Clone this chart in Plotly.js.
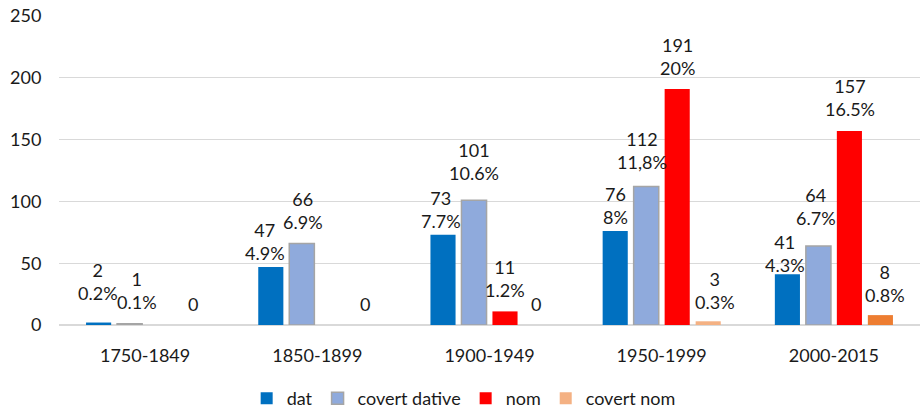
<!DOCTYPE html>
<html>
<head>
<meta charset="utf-8">
<script src="https://cdn.plot.ly/plotly-3.0.1.min.js"></script>
<style>html,body{margin:0;padding:0;background:#fff;}#chart{width:920px;height:411px;}</style>
</head>
<body>
<div id="chart"></div>
<script>
// ---- data ----
const categories = ['1750-1849', '1850-1899', '1900-1949', '1950-1999', '2000-2015'];
const seriesNames = ['dat', 'covert dative', 'nom', 'covert nom'];
const datValues = [2, 47, 73, 76, 41];
const datPct = ['0.2%', '4.9%', '7.7%', '8%', '4.3%'];
const covertDativeValues = [1, 66, 101, 112, 64];
const covertDativePct = ['0.1%', '6.9%', '10.6%', '11,8%', '6.7%'];
const nomValues = [0, 0, 11, 191, 157];
const nomPct = [null, null, '1.2%', '20%', '16.5%'];
const covertNomValues = [0, 0, 0, 3, 8];
const covertNomPct = [null, null, null, '0.3%', '0.8%'];

// ---- style ----
const FONT = 'Lato, "Liberation Sans", Arial, sans-serif';
const TXT = '#1a1a1a';
const M = {l: 59, r: 0, t: 16, b: 86};
const W = 920, H = 411;
const BARGAP = 0.28, GROUPGAP = 0.19;
const colors = ['#0070C0', '#8FAADC', '#FF0000', ['#F4B183', '#F4B183', '#F4B183', '#F4B183', '#ED7D31']];
// label nudges (label layout only): distance of last text line centre above bar top, horizontal shift
const labelGap = [[29.5, 14, 13, 14, 9], [21, 21, 27, 24, 28], [21, 21, 21, 21, 22], [21, 21, 21, 19, 20]];
const labelDx = [[-1, -6, -2, 0, -2], [7, 1.5, 0, -4.5, -2], [0, 0, 0, 0, 0.5], [1.5, 1, 0, 7, 5]];

const values = [datValues, covertDativeValues, nomValues, covertNomValues];
const pcts = [datPct, covertDativePct, nomPct, covertNomPct];

const traces = values.map((v, i) => ({
  type: 'bar',
  name: seriesNames[i],
  x: categories,
  y: v,
  marker: {
    color: colors[i],
    line: i === 1 ? {color: '#A5A5A5', width: 1.5} : {width: 0}
  },
  hoverinfo: 'skip'
}));

const plotW = W - M.l - M.r;
const catW = plotW / categories.length;
const slot = catW * (1 - BARGAP) / 4;
const annotations = [];
values.forEach((v, s) => {
  v.forEach((val, j) => {
    if (s === 2 && val === 0) return; // nom zeros carry no label
    const txt = pcts[s][j] ? val + '<br>' + pcts[s][j] : String(val);
    annotations.push({
      x: categories[j], y: val, xref: 'x', yref: 'y',
      text: txt, showarrow: false,
      xanchor: 'center', yanchor: 'bottom',
      xshift: (s - 1.5) * slot + labelDx[s][j],
      yshift: labelGap[s][j] - 12.7,
      font: {family: FONT, size: 18, color: TXT}
    });
  });
});

const layout = {
  width: W, height: H,
  margin: M,
  paper_bgcolor: '#fff', plot_bgcolor: '#fff',
  barmode: 'group', bargap: BARGAP, bargroupgap: GROUPGAP,
  font: {family: FONT, size: 18, color: TXT},
  showlegend: true,
  legend: {
    orientation: 'h', x: 0.47, xanchor: 'center',
    yref: 'container', y: 0.03, yanchor: 'middle',
    font: {family: FONT, size: 18, color: TXT},
    traceorder: 'normal'
  },
  xaxis: {
    type: 'category',
    showgrid: false, showline: false, zeroline: false,
    ticks: 'outside', ticklen: 14, tickcolor: 'rgba(0,0,0,0)',
    tickfont: {family: FONT, size: 18, color: TXT}
  },
  yaxis: {
    range: [0, 250], dtick: 50, tick0: 0,
    showgrid: true, gridcolor: '#D9D9D9', gridwidth: 1.3,
    zeroline: true, zerolinecolor: '#D9D9D9', zerolinewidth: 1.3,
    showline: false,
    ticks: 'outside', ticklen: 13, tickcolor: 'rgba(0,0,0,0)',
    tickfont: {family: FONT, size: 18, color: TXT}
  },
  annotations: annotations
};

Plotly.newPlot('chart', traces, layout, {displayModeBar: false, staticPlot: true});
</script>
</body>
</html>
